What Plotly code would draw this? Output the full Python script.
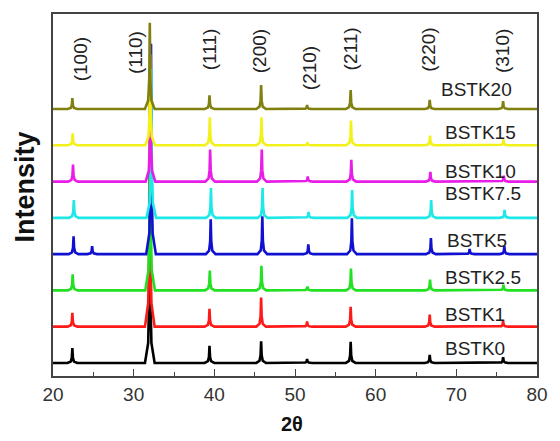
import plotly.graph_objects as go

# XRD patterns of the BSTK series, stacked with a constant vertical offset
SAMPLES = ["BSTK0", "BSTK1", "BSTK2.5", "BSTK5", "BSTK7.5", "BSTK10", "BSTK15", "BSTK20"]
COLORS = ["#000000", "#ff1a1a", "#22e022", "#1010d0", "#1ee8e8", "#e81ee8", "#f2f21a", "#808010"]
OFFSETS = [0, 100, 200, 300, 400, 500, 600, 700]
SHIFTS = [0.0, 0.0, 0.04, 0.15, 0.18, 0.08, 0.04, 0.0]

# Reflection positions (2θ, degrees); two weak extra reflections at 24.7 and 71.5
PEAK_POS = [22.4, 24.7, 32.0, 39.4, 45.8, 51.5, 56.9, 66.7, 71.5, 75.8]

# Peak heights above baseline (a.u.), one row per sample, same order as PEAK_POS
HEIGHTS = [
    [41, 0, 550, 47, 60, 11, 58, 22, 0, 16],
    [38, 0, 650, 49, 80, 14, 55, 33, 0, 16],
    [44, 0, 560, 55, 68, 11, 60, 30, 0, 16],
    [49, 22, 580, 96, 104, 27, 99, 44, 14, 22],
    [49, 0, 410, 82, 82, 16, 77, 49, 0, 22],
    [47, 0, 300, 88, 88, 14, 60, 27, 0, 16],
    [33, 0, 250, 77, 77, 8, 68, 27, 0, 16],
    [30, 0, 238, 38, 66, 11, 52, 25, 0, 22],
]

# Sample label positions (2θ, a.u.)
LABEL_X = [68.3, 68.3, 68.3, 68.6, 68.3, 68.3, 68.3, 67.9]
LABEL_Y = [41, 134, 236, 337, 466, 529, 636, 753]

MILLER = ["(100)", "(110)", "(111)", "(200)", "(210)", "(211)", "(220)", "(310)"]
MILLER_X = [23.4, 30.2, 39.4, 45.7, 51.8, 56.9, 66.6, 75.8]
MILLER_Y = [0.876, 0.893, 0.904, 0.898, 0.849, 0.904, 0.901, 0.898]

X_MIN, X_MAX = 20, 80
# profile vertices of one reflection: (2θ offset, fraction of height)
PROFILE = [(-0.6, 0.0), (-0.2, 0.1), (-0.07, 0.35), (0.0, 1.0),
           (0.07, 0.35), (0.2, 0.1), (0.6, 0.0)]

FONT = "Arial, Liberation Sans, sans-serif"

fig = go.Figure()

for name, color, off, shift, hs in zip(SAMPLES, COLORS, OFFSETS, SHIFTS, HEIGHTS):
    xs, ys = [X_MIN], [off]
    for pos, h in zip(PEAK_POS, hs):
        if h <= 0:
            continue
        for dx, f in PROFILE:
            xs.append(pos + shift + dx)
            ys.append(off + h * f)
    xs.append(X_MAX)
    ys.append(off)
    fig.add_trace(go.Scatter(x=xs, y=ys, mode="lines", name=name,
                             line=dict(color=color, width=2.6),
                             showlegend=False, hoverinfo="skip"))

annotations = []
for name, lx, ly in zip(SAMPLES, LABEL_X, LABEL_Y):
    annotations.append(dict(x=lx, y=ly, xref="x", yref="y", text=name, showarrow=False,
                            xanchor="left", yanchor="middle",
                            font=dict(family=FONT, size=19, color="#222222")))
for lab, mx, my in zip(MILLER, MILLER_X, MILLER_Y):
    annotations.append(dict(x=mx, y=my, xref="x", yref="paper", text=lab, showarrow=False,
                            textangle=-90, xanchor="center", yanchor="middle",
                            font=dict(family=FONT, size=19, color="#222222")))
annotations.append(dict(x=-0.057, y=0.522, xref="paper", yref="paper", text="<b>Intensity</b>",
                        showarrow=False, textangle=-90, xanchor="center", yanchor="middle",
                        font=dict(family=FONT, size=27, color="#111111")))
annotations.append(dict(x=0.493, y=-0.132, xref="paper", yref="paper", text="<b>2θ</b>",
                        showarrow=False, xanchor="center", yanchor="middle",
                        font=dict(family=FONT, size=20, color="#111111")))

fig.update_layout(
    width=560, height=441,
    margin=dict(l=53, r=12, t=12, b=65),
    paper_bgcolor="white", plot_bgcolor="white",
    annotations=annotations,
    xaxis=dict(range=[X_MIN, X_MAX], tickvals=[20, 30, 40, 50, 60, 70, 80],
               ticks="inside", ticklen=7, tickwidth=1.3, tickcolor="#444444",
               minor=dict(tickvals=[25, 35, 45, 55, 65, 75], ticks="inside",
                          ticklen=4, tickwidth=1.3, tickcolor="#444444"),
               showline=True, linecolor="#444444", linewidth=1.6, mirror=True,
               showgrid=False, zeroline=False,
               tickfont=dict(family=FONT, size=19, color="#333333")),
    yaxis=dict(range=[-36, 962], showticklabels=False, ticks="",
               showline=True, linecolor="#444444", linewidth=1.6, mirror=True,
               showgrid=False, zeroline=False),
)

fig.write_html("out.html")
